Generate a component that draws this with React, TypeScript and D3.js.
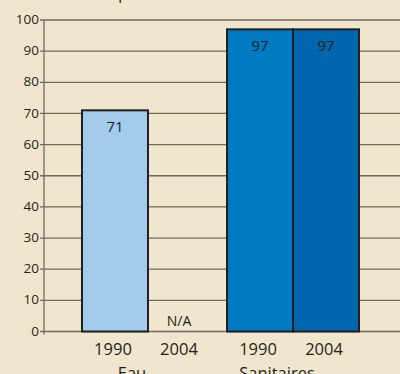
import { useEffect, useRef } from 'react'
import * as d3 from 'd3'

// Access to improved water and sanitation (% of population)
const groups = ['Eau', 'Sanitaires']
const years = ['1990', '2004']
const eauValues = [71, null]
const sanitairesValues = [97, 97]
const yTicks = [0, 10, 20, 30, 40, 50, 60, 70, 80, 90, 100]

const COLORS = {
  bg: '#efe6cd',
  grid: '#6f6a62',
  text: '#231f20',
  bars: [['#a3cbec', '#a3cbec'], ['#007ac2', '#0066ad']],
}

const FONT = '"Open Sans", "Liberation Sans", sans-serif'

function App() {
  const ref = useRef<SVGSVGElement | null>(null)

  useEffect(() => {
    if (!ref.current) return
    const svg = d3.select(ref.current)
    svg.selectAll('*').remove()

    const width = 400
    const height = 374
    const left = 44

    svg.append('rect').attr('width', width).attr('height', height).attr('fill', COLORS.bg)

    // Title, cut off at the very top as in the source
    svg.append('text')
      .attr('x', 14)
      .attr('y', -1.5)
      .attr('font-family', FONT)
      .attr('font-size', 17)
      .attr('fill', COLORS.text)
      .text('Accès à l’eau potable et aux sanitaires')

    const y = d3.scaleLinear().domain([0, 100]).range([331.5, 20])

    const x0 = d3.scaleBand<string>().domain(groups).range([82, 359]).paddingInner(0.09)
    const x1 = d3.scaleBand<string>().domain(years).range([0, x0.bandwidth()]).padding(0)

    // Gridlines + tick marks
    svg.append('g')
      .selectAll('line')
      .data(yTicks)
      .enter()
      .append('line')
      .attr('x1', left - 4)
      .attr('x2', width)
      .attr('y1', d => y(d))
      .attr('y2', d => y(d))
      .attr('stroke', COLORS.grid)
      .attr('stroke-width', 1.3)

    // Y axis line
    svg.append('line')
      .attr('x1', left)
      .attr('x2', left)
      .attr('y1', y(100))
      .attr('y2', y(0) + 3)
      .attr('stroke', COLORS.grid)
      .attr('stroke-width', 1.3)

    // Tick labels
    svg.append('g')
      .selectAll('text')
      .data(yTicks)
      .enter()
      .append('text')
      .attr('x', left - 5)
      .attr('y', d => y(d))
      .attr('dy', '0.3em')
      .attr('text-anchor', 'end')
      .attr('font-family', FONT)
      .attr('font-size', 13.5)
      .attr('fill', COLORS.text)
      .text(d => d)

    const series = [eauValues, sanitairesValues]

    groups.forEach((g, gi) => {
      const gx = x0(g) ?? 0
      years.forEach((yr, yi) => {
        const v = series[gi][yi]
        const bx = gx + (x1(yr) ?? 0)
        const cx = bx + x1.bandwidth() / 2
        if (v == null) {
          svg.append('text')
            .attr('x', cx - 2)
            .attr('y', y(0) - 6)
            .attr('text-anchor', 'middle')
            .attr('font-family', FONT)
            .attr('font-size', 14)
            .attr('fill', COLORS.text)
            .text('N/A')
        } else {
          svg.append('rect')
            .attr('x', bx)
            .attr('y', y(v))
            .attr('width', x1.bandwidth())
            .attr('height', y(0) - y(v))
            .attr('fill', COLORS.bars[gi][yi])
            .attr('stroke', COLORS.text)
            .attr('stroke-width', 2)

          svg.append('text')
            .attr('x', cx)
            .attr('y', y(v) + 22)
            .attr('text-anchor', 'middle')
            .attr('font-family', FONT)
            .attr('font-size', 15)
            .attr('fill', COLORS.text)
            .text(v)
        }

        // Year label
        svg.append('text')
          .attr('x', cx - 2)
          .attr('y', 355)
          .attr('text-anchor', 'middle')
          .attr('font-family', FONT)
          .attr('font-size', 16.5)
          .attr('fill', COLORS.text)
          .text(yr)
      })

      // Group label (partly below the frame, as in the source)
      svg.append('text')
        .attr('x', gx + x0.bandwidth() / 2 - 16)
        .attr('y', 379)
        .attr('text-anchor', 'middle')
        .attr('font-family', FONT)
        .attr('font-size', 16.5)
        .attr('fill', COLORS.text)
        .text(g)
    })
  }, [])

  return (
    <>
      <style>{`body { margin: 0; }`}</style>
      <svg ref={ref} width={400} height={374} style={{ display: 'block' }} />
    </>
  )
}

export default App
